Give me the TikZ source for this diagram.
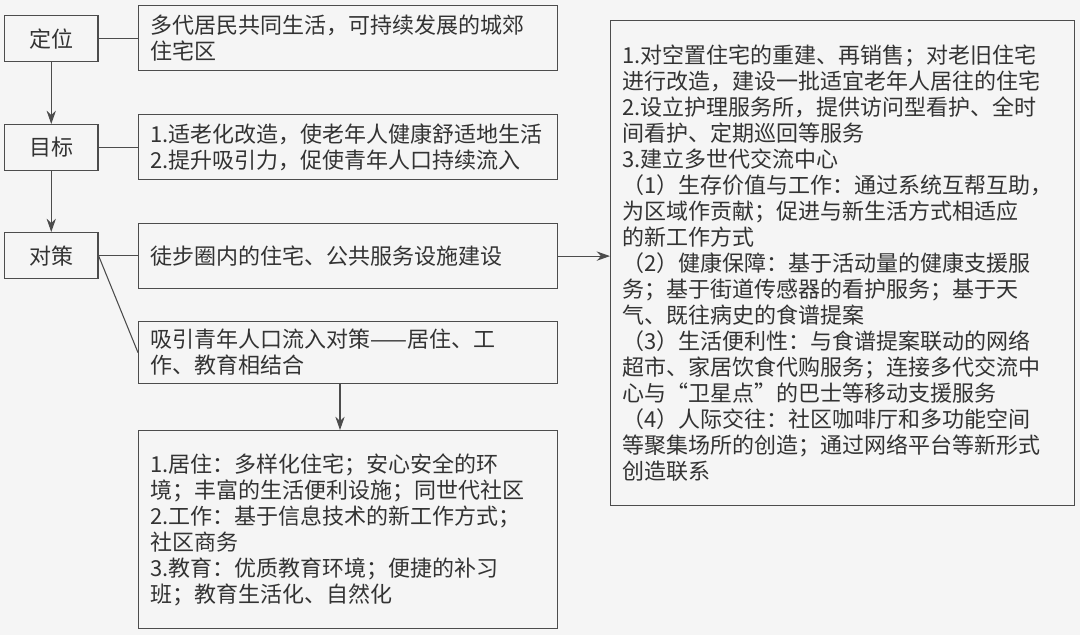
\documentclass[tikz,border=0pt]{standalone}
\usepackage{fontspec}
\setmainfont{Noto Sans CJK SC}
\usetikzlibrary{arrows.meta}
\begin{document}
\begin{tikzpicture}[x=0.75pt,y=-0.75pt,
  font=\fontsize{16.5}{19.5}\selectfont, text=black!80,
  bx/.style={draw=black!70, line width=0.9pt, anchor=north west, inner sep=0pt, inner xsep=9pt, align=left},
  lab/.style={draw=black!70, line width=0.9pt, anchor=north west, inner sep=0pt, align=center, minimum width=70pt, minimum height=34.5pt},
  ln/.style={draw=black!70, line width=0.8pt},
  ar/.style={ln, -{Stealth[length=10pt,width=7pt]}}]
\fill[black!4] (0,0) rectangle (1080,635);
\useasboundingbox (0,0) rectangle (1080,635);
\node[lab] (a) at (4,15) {定位};
\node[lab] (b) at (4,124) {目标};
\node[lab] (c) at (4,232) {对策};
\node[bx, minimum width=312.75pt, minimum height=48.75pt, text width=296pt] (b1) at (138,5) {多代居民共同生活，可持续发展的城郊\\住宅区};
\node[bx, minimum width=312.75pt, minimum height=48.75pt, text width=296pt] (b2) at (138,114) {1.适老化改造，使老年人健康舒适地生活\\2.提升吸引力，促使青年人口持续流入};
\node[bx, minimum width=312.75pt, minimum height=48.75pt, text width=296pt] (b3) at (138,223) {徒步圈内的住宅、公共服务设施建设};
\node[bx, minimum width=312.75pt, minimum height=46.5pt, text width=296pt] (b4) at (138,321) {吸引青年人口流入对策——居住、工\\作、教育相结合};
\node[bx, minimum width=312.75pt, minimum height=148.5pt, text width=296pt] (b5) at (138,430) {1.居住：多样化住宅；安心安全的环\\境；丰富的生活便利设施；同世代社区\\2.工作：基于信息技术的新工作方式；\\社区商务\\3.教育：优质教育环境；便捷的补习\\班；教育生活化、自然化};
\node[bx, minimum width=345pt, minimum height=363.75pt, text width=330pt] (r) at (610,20) {1.对空置住宅的重建、再销售；对老旧住宅\\进行改造，建设一批适宜老年人居往的住宅\\2.设立护理服务所，提供访问型看护、全时\\间看护、定期巡回等服务\\3.建立多世代交流中心\\（1）生存价值与工作：通过系统互帮互助，\\为区域作贡献；促进与新生活方式相适应\\的新工作方式\\（2）健康保障：基于活动量的健康支援服\\务；基于街道传感器的看护服务；基于天\\气、既往病史的食谱提案\\（3）生活便利性：与食谱提案联动的网络\\超市、家居饮食代购服务；连接多代交流中\\心与“卫星点”的巴士等移动支援服务\\（4）人际交往：社区咖啡厅和多功能空间\\等聚集场所的创造；通过网络平台等新形式\\创造联系};
\draw[ar] (a) -- (b);
\draw[ar] (b) -- (c);
\draw[ln] (a.east) -- (a.east -| b1.west);
\draw[ln] (b.east) -- (b.east -| b2.west);
\draw[ln] (c.east) -- (c.east -| b3.west);
\draw[ln] (c.east) -- (b4.west);
\draw[ar] (b3.east) -- (b3.east -| r.west);
\draw[ar] (b4.south -| 340,0) -- (b5.north -| 340,0);
\end{tikzpicture}
\end{document}
